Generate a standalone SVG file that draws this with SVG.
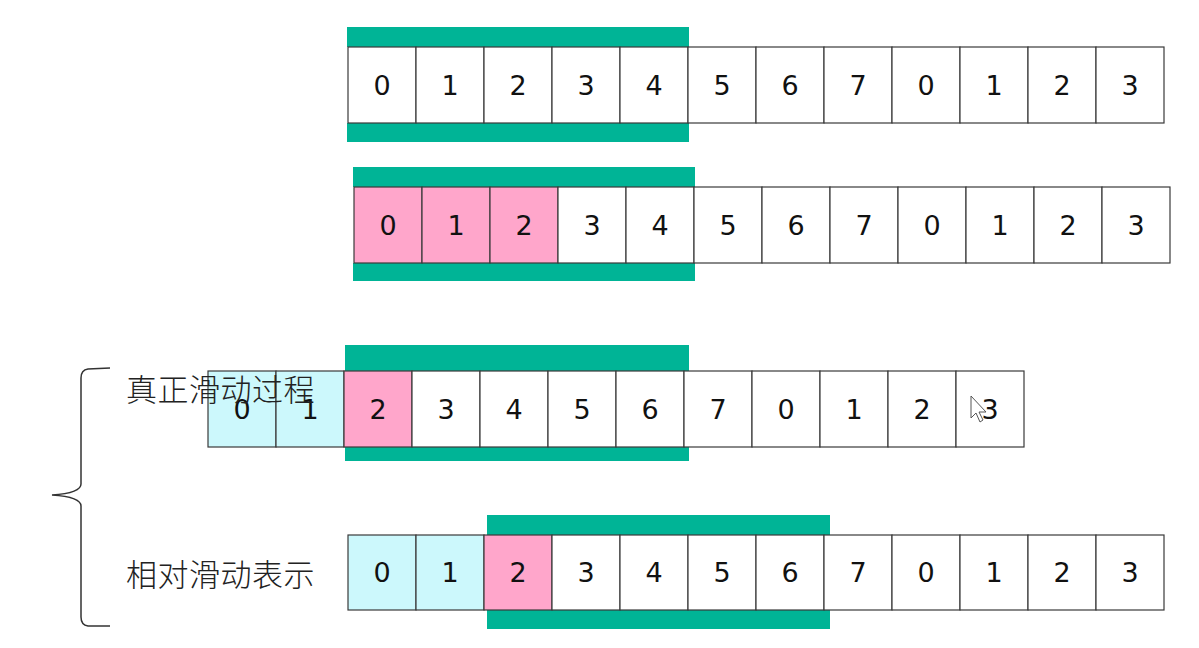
<svg xmlns="http://www.w3.org/2000/svg" width="1199" height="648" viewBox="0 0 1199 648">
<style>
.c{stroke:#3a3a3a;stroke-width:1.2;fill:#fff}
.p{fill:#ffa6cb}
.b{fill:#ccf8fc}
.t{fill:#00b496}
.n{font-family:"DejaVu Sans",sans-serif;font-size:27px;fill:#111;text-anchor:middle;dominant-baseline:central}
.z{font-family:"Noto Sans CJK SC",sans-serif;font-size:31px;font-weight:300;fill:#222;letter-spacing:0.5px}
</style>
<rect width="1199" height="648" fill="#fff"/>
<g id="row1">
<rect class="t" x="347" y="27" width="342" height="20"/>
<rect class="t" x="347" y="123" width="342" height="19"/>
<g transform="translate(348,47)">
<rect class="c" x="0" y="0" width="68" height="76"/><text class="n" x="34" y="38">0</text>
<rect class="c" x="68" y="0" width="68" height="76"/><text class="n" x="102" y="38">1</text>
<rect class="c" x="136" y="0" width="68" height="76"/><text class="n" x="170" y="38">2</text>
<rect class="c" x="204" y="0" width="68" height="76"/><text class="n" x="238" y="38">3</text>
<rect class="c" x="272" y="0" width="68" height="76"/><text class="n" x="306" y="38">4</text>
<rect class="c" x="340" y="0" width="68" height="76"/><text class="n" x="374" y="38">5</text>
<rect class="c" x="408" y="0" width="68" height="76"/><text class="n" x="442" y="38">6</text>
<rect class="c" x="476" y="0" width="68" height="76"/><text class="n" x="510" y="38">7</text>
<rect class="c" x="544" y="0" width="68" height="76"/><text class="n" x="578" y="38">0</text>
<rect class="c" x="612" y="0" width="68" height="76"/><text class="n" x="646" y="38">1</text>
<rect class="c" x="680" y="0" width="68" height="76"/><text class="n" x="714" y="38">2</text>
<rect class="c" x="748" y="0" width="68" height="76"/><text class="n" x="782" y="38">3</text>
</g>
</g>
<g id="row2">
<rect class="t" x="353" y="167" width="342" height="20"/>
<rect class="t" x="353" y="263" width="342" height="18"/>
<g transform="translate(354,187)">
<rect class="c p" x="0" y="0" width="68" height="76"/><text class="n" x="34" y="38">0</text>
<rect class="c p" x="68" y="0" width="68" height="76"/><text class="n" x="102" y="38">1</text>
<rect class="c p" x="136" y="0" width="68" height="76"/><text class="n" x="170" y="38">2</text>
<rect class="c" x="204" y="0" width="68" height="76"/><text class="n" x="238" y="38">3</text>
<rect class="c" x="272" y="0" width="68" height="76"/><text class="n" x="306" y="38">4</text>
<rect class="c" x="340" y="0" width="68" height="76"/><text class="n" x="374" y="38">5</text>
<rect class="c" x="408" y="0" width="68" height="76"/><text class="n" x="442" y="38">6</text>
<rect class="c" x="476" y="0" width="68" height="76"/><text class="n" x="510" y="38">7</text>
<rect class="c" x="544" y="0" width="68" height="76"/><text class="n" x="578" y="38">0</text>
<rect class="c" x="612" y="0" width="68" height="76"/><text class="n" x="646" y="38">1</text>
<rect class="c" x="680" y="0" width="68" height="76"/><text class="n" x="714" y="38">2</text>
<rect class="c" x="748" y="0" width="68" height="76"/><text class="n" x="782" y="38">3</text>
</g>
</g>
<g id="row3">
<rect class="t" x="345" y="345" width="344" height="26"/>
<rect class="t" x="345" y="447" width="344" height="14"/>
<g transform="translate(208,371)">
<rect class="c b" x="0" y="0" width="68" height="76"/><text class="n" x="34" y="38">0</text>
<rect class="c b" x="68" y="0" width="68" height="76"/><text class="n" x="102" y="38">1</text>
<rect class="c p" x="136" y="0" width="68" height="76"/><text class="n" x="170" y="38">2</text>
<rect class="c" x="204" y="0" width="68" height="76"/><text class="n" x="238" y="38">3</text>
<rect class="c" x="272" y="0" width="68" height="76"/><text class="n" x="306" y="38">4</text>
<rect class="c" x="340" y="0" width="68" height="76"/><text class="n" x="374" y="38">5</text>
<rect class="c" x="408" y="0" width="68" height="76"/><text class="n" x="442" y="38">6</text>
<rect class="c" x="476" y="0" width="68" height="76"/><text class="n" x="510" y="38">7</text>
<rect class="c" x="544" y="0" width="68" height="76"/><text class="n" x="578" y="38">0</text>
<rect class="c" x="612" y="0" width="68" height="76"/><text class="n" x="646" y="38">1</text>
<rect class="c" x="680" y="0" width="68" height="76"/><text class="n" x="714" y="38">2</text>
<rect class="c" x="748" y="0" width="68" height="76"/><text class="n" x="782" y="38">3</text>
</g>
<text class="z" x="126" y="401">真正滑动过程</text>
<path d="M971,396 L971,418 L976,413 L980,422 L983,420 L979,412 L986,412 Z" fill="#fff" stroke="#555" stroke-width="1"/>
</g>
<g id="row4">
<rect class="t" x="487" y="515" width="343" height="20"/>
<rect class="t" x="487" y="610" width="343" height="19"/>
<g transform="translate(348,535)">
<rect class="c b" x="0" y="0" width="68" height="75"/><text class="n" x="34" y="37">0</text>
<rect class="c b" x="68" y="0" width="68" height="75"/><text class="n" x="102" y="37">1</text>
<rect class="c p" x="136" y="0" width="68" height="75"/><text class="n" x="170" y="37">2</text>
<rect class="c" x="204" y="0" width="68" height="75"/><text class="n" x="238" y="37">3</text>
<rect class="c" x="272" y="0" width="68" height="75"/><text class="n" x="306" y="37">4</text>
<rect class="c" x="340" y="0" width="68" height="75"/><text class="n" x="374" y="37">5</text>
<rect class="c" x="408" y="0" width="68" height="75"/><text class="n" x="442" y="37">6</text>
<rect class="c" x="476" y="0" width="68" height="75"/><text class="n" x="510" y="37">7</text>
<rect class="c" x="544" y="0" width="68" height="75"/><text class="n" x="578" y="37">0</text>
<rect class="c" x="612" y="0" width="68" height="75"/><text class="n" x="646" y="37">1</text>
<rect class="c" x="680" y="0" width="68" height="75"/><text class="n" x="714" y="37">2</text>
<rect class="c" x="748" y="0" width="68" height="75"/><text class="n" x="782" y="37">3</text>
</g>
<text class="z" x="126" y="586">相对滑动表示</text>
</g>
<g id="connectors">
<path d="M110,368 L88,369 Q81,370 81,378 L81,484 Q81,493 52,495 Q81,497 81,506 L81,617 Q81,625 88,626 L110,626" fill="none" stroke="#333" stroke-width="1.5"/>
</g>
</svg>
